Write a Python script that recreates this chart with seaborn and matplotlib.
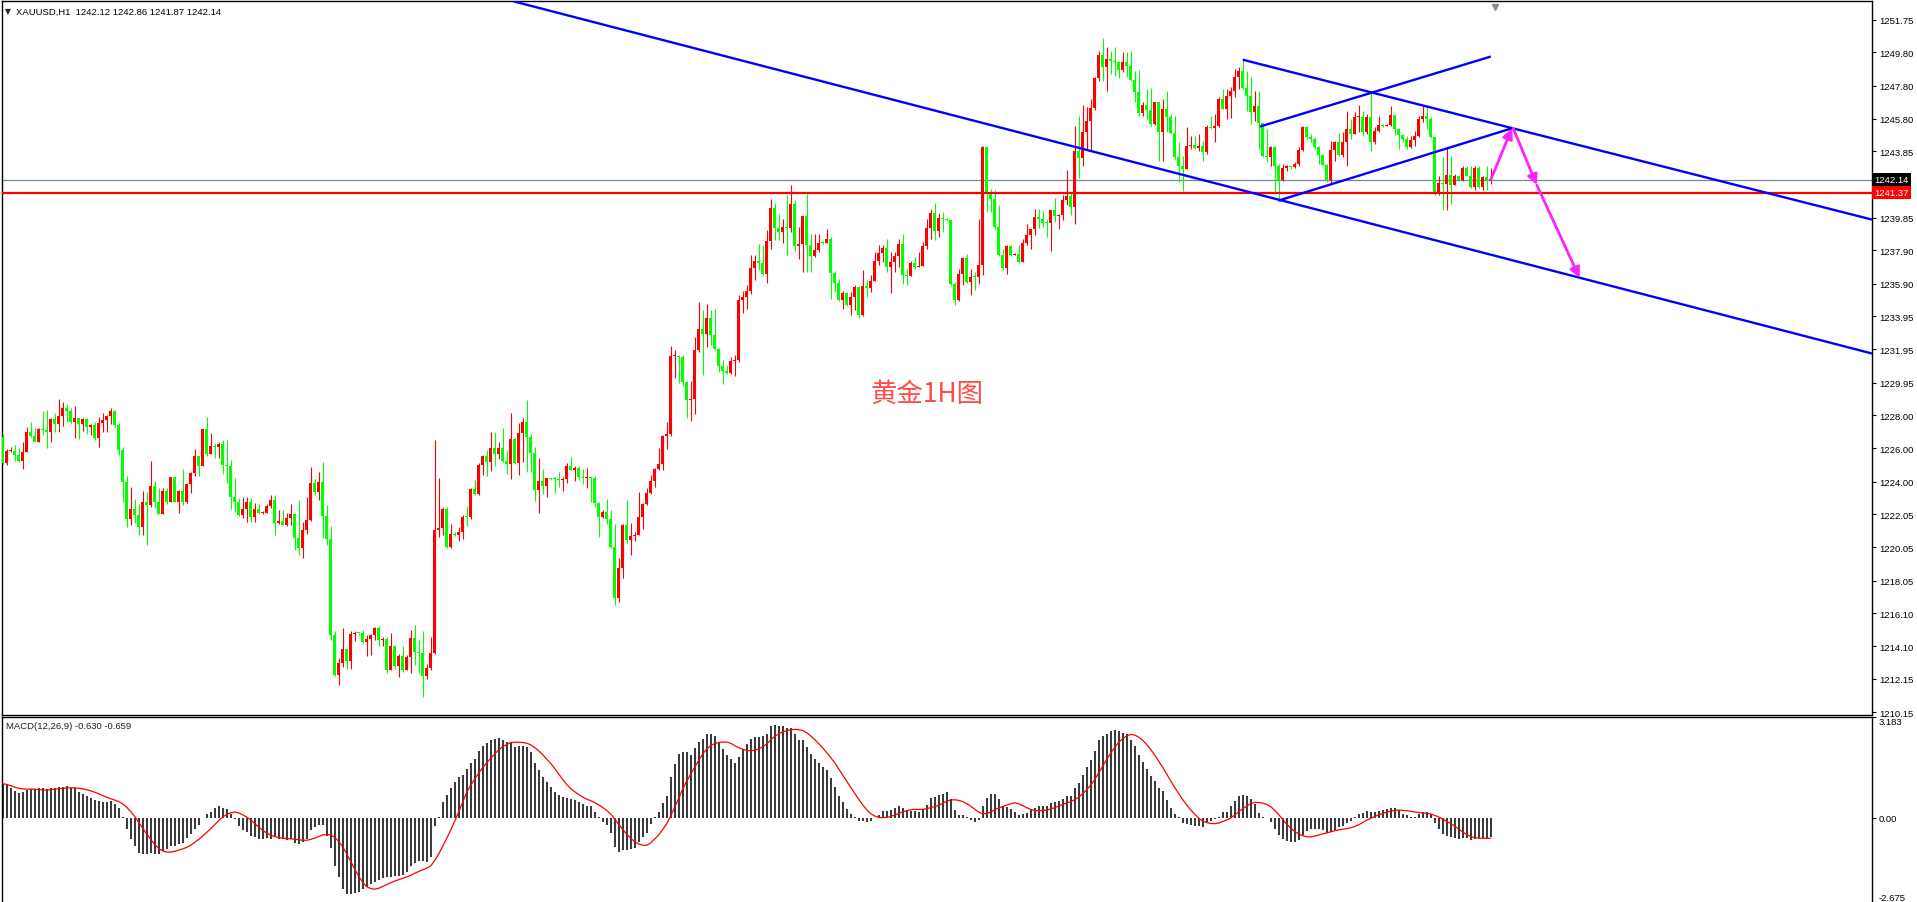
import numpy as np
import pandas as pd
import matplotlib
matplotlib.use('Agg')
import matplotlib.pyplot as plt
import matplotlib.transforms as mtransforms
import seaborn as sns

# XAUUSD H1, 373 bars
first_open = 1226.70
closes = [
    1225.10, 1225.84, 1225.84, 1225.60, 1225.24, 1225.80, 1227.00, 1226.76, 1226.36, 1227.16,
    1227.10, 1227.00, 1227.76, 1227.44, 1227.94, 1228.40, 1228.24, 1227.60, 1227.80, 1227.44,
    1227.74, 1227.30, 1227.40, 1226.64, 1227.50, 1227.70, 1227.94, 1228.24, 1227.40, 1225.90,
    1224.00, 1221.74, 1222.34, 1222.00, 1221.28, 1222.76, 1222.60, 1223.74, 1222.76, 1222.06,
    1223.44, 1222.76, 1224.26, 1222.78, 1223.44, 1222.76, 1223.88, 1224.50, 1225.52, 1224.94,
    1227.14, 1225.64, 1226.12, 1226.08, 1226.26, 1225.00, 1224.94, 1223.06, 1222.76, 1222.00,
    1222.34, 1222.80, 1221.88, 1222.34, 1222.10, 1222.12, 1222.54, 1222.88, 1221.50, 1221.66,
    1221.40, 1221.80, 1222.04, 1220.60, 1220.00, 1221.08, 1221.72, 1223.90, 1223.40, 1224.00,
    1221.94, 1220.54, 1214.80, 1212.40, 1213.10, 1213.94, 1213.24, 1214.84, 1214.90, 1214.88,
    1214.36, 1214.54, 1214.80, 1215.20, 1214.46, 1214.56, 1212.68, 1214.14, 1212.92, 1213.54,
    1212.66, 1213.46, 1214.60, 1213.76, 1213.70, 1212.34, 1212.80, 1213.70, 1221.08, 1221.20,
    1222.34, 1220.06, 1220.84, 1220.80, 1220.96, 1221.90, 1221.86, 1223.54, 1223.26, 1225.00,
    1225.56, 1225.20, 1226.00, 1225.64, 1226.00, 1225.24, 1225.04, 1226.54, 1225.10, 1226.90,
    1227.60, 1226.70, 1225.70, 1223.50, 1224.04, 1223.76, 1224.20, 1224.18, 1224.16, 1224.10,
    1224.16, 1224.94, 1224.70, 1224.84, 1224.26, 1224.20, 1224.24, 1224.20, 1222.70, 1221.86,
    1222.20, 1221.76, 1220.06, 1217.00, 1218.80, 1221.40, 1220.46, 1220.72, 1220.80, 1221.90,
    1222.66, 1223.30, 1224.04, 1224.76, 1225.04, 1226.74, 1226.84, 1231.54, 1231.58, 1231.48,
    1230.00, 1228.90, 1228.94, 1231.94, 1233.20, 1232.90, 1233.86, 1232.80, 1232.00, 1230.94,
    1230.64, 1230.50, 1231.26, 1231.30, 1234.90, 1235.10, 1235.44, 1236.86, 1237.24, 1237.14,
    1236.50, 1238.46, 1240.46, 1239.24, 1239.00, 1239.30, 1239.24, 1240.70, 1238.16, 1238.30,
    1239.94, 1238.20, 1237.54, 1237.94, 1238.36, 1238.34, 1238.60, 1236.56, 1235.96, 1234.90,
    1235.34, 1234.64, 1235.10, 1235.70, 1234.00, 1235.74, 1235.64, 1236.08, 1237.28, 1237.76,
    1238.04, 1236.88, 1237.20, 1237.56, 1238.30, 1236.40, 1236.38, 1237.14, 1236.90, 1236.96,
    1238.18, 1239.26, 1240.12, 1239.06, 1239.84, 1239.80, 1239.70, 1235.90, 1234.90, 1236.50,
    1237.44, 1236.00, 1236.30, 1236.28, 1237.00, 1244.10, 1241.40, 1241.00, 1239.30, 1237.60,
    1236.84, 1238.16, 1237.64, 1237.68, 1237.20, 1238.36, 1238.84, 1239.20, 1239.90, 1239.80,
    1239.56, 1239.54, 1240.30, 1239.96, 1240.00, 1240.90, 1241.16, 1240.50, 1243.86, 1243.44,
    1245.00, 1245.70, 1246.44, 1248.24, 1249.66, 1248.90, 1249.40, 1249.30, 1249.24, 1248.76,
    1249.24, 1249.00, 1248.14, 1247.40, 1246.16, 1246.64, 1246.36, 1245.50, 1246.84, 1245.04,
    1246.40, 1245.90, 1244.94, 1243.50, 1243.00, 1242.80, 1244.16, 1244.26, 1244.06, 1244.20,
    1243.80, 1245.34, 1245.26, 1245.40, 1247.00, 1246.40, 1247.20, 1247.50, 1248.34, 1248.70,
    1247.64, 1247.20, 1246.20, 1246.60, 1245.54, 1243.60, 1243.50, 1244.10, 1242.96, 1242.10,
    1242.84, 1243.00, 1242.90, 1243.10, 1243.96, 1245.30, 1244.70, 1244.60, 1244.10, 1243.64,
    1243.04, 1242.10, 1243.94, 1244.40, 1243.64, 1244.40, 1245.20, 1244.90, 1245.90, 1245.94,
    1245.00, 1245.94, 1244.40, 1245.10, 1245.44, 1245.40, 1245.42, 1246.04, 1245.20, 1244.84,
    1244.60, 1244.10, 1244.56, 1244.76, 1245.80, 1245.96, 1245.80, 1244.70, 1241.40, 1241.96,
    1241.90, 1242.46, 1241.80, 1242.40, 1242.10, 1242.84, 1242.40, 1241.70, 1242.84, 1241.70,
    1242.30, 1242.12, 1242.14,
]
highs = [
    1226.84, 1225.94, 1226.06, 1226.20, 1226.00, 1226.36, 1227.30, 1227.60, 1227.24, 1227.24,
    1228.24, 1228.28, 1227.84, 1228.14, 1228.94, 1228.80, 1228.64, 1228.40, 1228.54, 1227.84,
    1227.80, 1227.84, 1227.44, 1227.60, 1227.90, 1228.10, 1228.00, 1228.40, 1228.30, 1227.50,
    1226.10, 1224.36, 1223.66, 1222.94, 1222.64, 1223.46, 1223.40, 1225.24, 1224.04, 1223.60,
    1223.60, 1223.60, 1224.30, 1224.30, 1223.50, 1224.76, 1223.94, 1224.60, 1225.96, 1225.52,
    1227.14, 1227.90, 1226.90, 1226.30, 1226.36, 1226.50, 1226.48, 1225.28, 1224.20, 1223.00,
    1223.10, 1223.06, 1223.04, 1222.74, 1222.68, 1222.24, 1222.64, 1223.20, 1223.20, 1222.30,
    1222.28, 1222.10, 1222.64, 1222.04, 1222.88, 1221.60, 1223.06, 1224.86, 1224.14, 1224.56,
    1225.16, 1222.60, 1221.32, 1215.04, 1213.40, 1215.20, 1213.94, 1215.04, 1215.04, 1214.90,
    1215.06, 1214.80, 1214.84, 1215.24, 1215.34, 1214.68, 1214.66, 1214.90, 1214.20, 1213.66,
    1214.14, 1213.60, 1215.06, 1215.38, 1214.46, 1215.04, 1213.06, 1214.68, 1226.50, 1224.20,
    1222.46, 1222.46, 1221.44, 1220.96, 1221.30, 1222.00, 1222.56, 1223.60, 1224.10, 1225.14,
    1225.60, 1225.90, 1226.96, 1226.96, 1226.36, 1227.20, 1225.90, 1228.10, 1226.60, 1227.52,
    1227.84, 1228.88, 1226.88, 1226.06, 1225.40, 1224.76, 1224.24, 1224.24, 1224.28, 1224.56,
    1224.30, 1225.10, 1225.46, 1224.96, 1224.96, 1224.76, 1224.80, 1224.30, 1224.34, 1222.80,
    1222.30, 1222.94, 1222.30, 1221.46, 1219.40, 1221.46, 1222.88, 1221.50, 1220.96, 1223.40,
    1222.70, 1223.64, 1224.40, 1224.84, 1226.00, 1226.80, 1227.60, 1232.14, 1231.90, 1231.60,
    1231.64, 1230.04, 1230.04, 1232.70, 1234.80, 1234.30, 1234.70, 1234.34, 1234.40, 1232.06,
    1231.30, 1231.00, 1231.50, 1231.64, 1235.20, 1235.46, 1235.84, 1237.64, 1237.64, 1238.26,
    1238.24, 1239.14, 1241.00, 1240.76, 1240.10, 1239.76, 1241.24, 1241.84, 1240.90, 1239.30,
    1240.00, 1241.30, 1238.90, 1238.90, 1238.90, 1238.44, 1239.20, 1238.70, 1236.66, 1236.20,
    1235.44, 1235.40, 1235.40, 1235.80, 1235.74, 1236.74, 1236.10, 1236.40, 1237.80, 1238.20,
    1238.20, 1238.60, 1237.80, 1237.80, 1238.56, 1238.90, 1236.76, 1237.26, 1237.50, 1237.80,
    1238.40, 1239.76, 1240.36, 1240.72, 1240.16, 1240.20, 1239.84, 1239.74, 1236.00, 1236.76,
    1237.50, 1237.68, 1236.80, 1236.60, 1239.80, 1244.20, 1243.86, 1241.56, 1241.50, 1240.60,
    1238.00, 1238.20, 1238.20, 1237.72, 1238.20, 1238.60, 1239.50, 1239.20, 1240.40, 1240.40,
    1240.24, 1239.80, 1240.32, 1241.04, 1240.10, 1241.24, 1242.76, 1241.40, 1245.40, 1246.00,
    1246.64, 1246.50, 1247.00, 1248.30, 1249.86, 1250.66, 1250.10, 1249.90, 1250.10, 1249.26,
    1249.80, 1249.80, 1249.90, 1248.70, 1248.74, 1246.80, 1247.60, 1247.64, 1246.84, 1246.80,
    1247.00, 1247.50, 1246.10, 1246.00, 1244.40, 1243.60, 1245.30, 1244.80, 1244.80, 1244.90,
    1244.50, 1245.44, 1246.00, 1246.10, 1247.10, 1247.60, 1247.60, 1247.70, 1248.80, 1248.90,
    1249.44, 1248.70, 1248.30, 1247.50, 1247.50, 1245.50, 1245.20, 1244.20, 1244.20, 1243.10,
    1243.10, 1243.04, 1243.00, 1243.20, 1244.10, 1245.40, 1245.40, 1244.90, 1244.70, 1244.20,
    1243.70, 1243.10, 1244.50, 1244.50, 1244.96, 1245.00, 1246.30, 1245.80, 1246.20, 1246.64,
    1246.30, 1246.10, 1247.40, 1245.30, 1246.00, 1245.50, 1245.50, 1246.56, 1246.04, 1245.24,
    1244.90, 1244.80, 1244.80, 1245.10, 1246.00, 1246.60, 1246.50, 1245.90, 1244.70, 1242.40,
    1243.50, 1244.10, 1243.60, 1242.50, 1242.46, 1243.00, 1243.00, 1243.00, 1243.00, 1243.00,
    1242.40, 1243.00, 1242.86,
]
lows = [
    1225.04, 1225.00, 1225.76, 1225.24, 1225.16, 1224.76, 1225.76, 1226.70, 1226.36, 1226.36,
    1226.80, 1226.00, 1226.36, 1226.96, 1226.96, 1227.34, 1227.60, 1227.46, 1226.60, 1226.54,
    1227.06, 1226.84, 1226.80, 1226.50, 1226.10, 1226.96, 1226.96, 1227.44, 1227.26, 1225.60,
    1222.76, 1221.30, 1221.40, 1221.50, 1220.80, 1220.80, 1220.20, 1222.50, 1222.40, 1222.06,
    1222.06, 1222.68, 1222.96, 1222.76, 1222.10, 1222.60, 1222.70, 1223.30, 1224.34, 1224.34,
    1224.94, 1225.56, 1225.64, 1225.40, 1225.40, 1224.44, 1223.92, 1222.36, 1222.20, 1221.96,
    1221.80, 1221.56, 1221.56, 1221.56, 1222.04, 1222.06, 1222.20, 1222.44, 1220.80, 1221.46,
    1221.40, 1221.34, 1221.40, 1219.90, 1219.60, 1219.40, 1220.86, 1221.64, 1223.20, 1222.90,
    1220.60, 1220.20, 1214.50, 1212.34, 1211.80, 1212.86, 1212.74, 1212.74, 1214.40, 1214.76,
    1214.30, 1213.54, 1213.56, 1214.46, 1214.14, 1214.14, 1212.50, 1212.68, 1212.76, 1212.26,
    1212.58, 1212.76, 1212.50, 1213.00, 1212.50, 1211.08, 1212.16, 1212.66, 1213.64, 1220.66,
    1220.80, 1220.00, 1220.00, 1220.76, 1220.44, 1220.56, 1221.34, 1221.76, 1223.20, 1223.20,
    1224.40, 1224.34, 1224.64, 1224.94, 1225.36, 1225.20, 1224.46, 1224.16, 1225.06, 1224.40,
    1225.20, 1224.60, 1224.60, 1222.84, 1222.14, 1223.26, 1223.08, 1224.10, 1223.30, 1223.66,
    1223.44, 1223.90, 1224.70, 1224.04, 1224.10, 1223.88, 1223.60, 1222.80, 1222.46, 1220.66,
    1221.80, 1221.46, 1220.00, 1216.56, 1216.76, 1218.20, 1220.24, 1219.60, 1220.40, 1221.86,
    1221.16, 1222.60, 1223.24, 1223.66, 1224.70, 1224.68, 1225.96, 1226.74, 1230.20, 1229.90,
    1229.76, 1227.84, 1227.66, 1228.04, 1231.80, 1230.40, 1232.10, 1232.20, 1231.90, 1230.60,
    1229.84, 1230.46, 1230.46, 1230.34, 1231.16, 1234.16, 1234.40, 1235.26, 1236.14, 1236.70,
    1236.40, 1235.96, 1237.96, 1238.54, 1238.50, 1238.34, 1237.60, 1239.00, 1237.84, 1237.40,
    1236.60, 1236.60, 1236.60, 1237.50, 1237.80, 1238.30, 1238.50, 1235.00, 1235.40, 1234.84,
    1234.40, 1234.56, 1234.04, 1234.34, 1233.86, 1233.94, 1235.10, 1235.40, 1236.04, 1237.00,
    1237.20, 1236.60, 1235.36, 1236.60, 1236.90, 1235.90, 1235.84, 1236.34, 1236.80, 1236.92,
    1236.96, 1238.00, 1238.60, 1238.54, 1238.70, 1239.00, 1239.64, 1235.80, 1234.60, 1234.84,
    1235.80, 1235.96, 1235.20, 1235.50, 1235.86, 1236.40, 1240.20, 1240.20, 1239.20, 1237.56,
    1236.74, 1236.50, 1237.56, 1237.62, 1237.16, 1237.20, 1238.24, 1237.96, 1238.80, 1239.24,
    1239.30, 1238.70, 1237.86, 1239.60, 1239.20, 1239.70, 1240.60, 1240.00, 1239.50, 1242.24,
    1243.00, 1244.00, 1243.96, 1246.36, 1248.10, 1248.10, 1247.50, 1248.50, 1248.40, 1248.24,
    1248.60, 1248.30, 1248.10, 1246.80, 1246.00, 1246.00, 1245.80, 1245.40, 1245.44, 1243.30,
    1243.30, 1245.00, 1244.90, 1243.40, 1242.00, 1241.46, 1242.80, 1244.00, 1244.00, 1243.90,
    1243.30, 1243.70, 1245.20, 1244.40, 1245.30, 1246.40, 1245.80, 1245.84, 1247.10, 1247.60,
    1247.60, 1246.30, 1245.50, 1245.70, 1244.00, 1243.50, 1243.20, 1243.00, 1241.30, 1240.90,
    1242.04, 1242.70, 1242.80, 1242.84, 1242.96, 1243.90, 1244.60, 1244.40, 1244.00, 1243.10,
    1243.00, 1242.00, 1241.90, 1243.30, 1243.60, 1243.50, 1243.00, 1244.60, 1244.90, 1245.00,
    1244.80, 1244.90, 1243.90, 1244.30, 1245.04, 1245.30, 1245.36, 1245.36, 1244.84, 1244.00,
    1244.44, 1244.00, 1244.06, 1244.16, 1244.70, 1245.60, 1245.20, 1244.64, 1241.20, 1241.20,
    1240.30, 1240.30, 1240.70, 1242.06, 1242.04, 1242.06, 1242.36, 1241.64, 1241.50, 1241.64,
    1241.50, 1241.50, 1241.87,
]
# MACD(12,26,9) main line, drawn as histogram
macd = [
    1.07, 1.03, 0.92, 0.83, 0.78, 0.81, 0.86, 0.89, 0.89, 0.92,
    0.94, 0.89, 0.92, 0.94, 0.96, 0.96, 1.00, 0.94, 0.92, 0.81,
    0.73, 0.67, 0.62, 0.56, 0.51, 0.49, 0.49, 0.51, 0.42, 0.29,
    0.02, -0.36, -0.68, -0.90, -1.12, -1.17, -1.17, -1.12, -1.14, -1.17,
    -1.06, -1.01, -0.90, -0.90, -0.84, -0.81, -0.66, -0.52, -0.36, -0.25,
    -0.01, 0.10, 0.18, 0.29, 0.37, 0.31, 0.27, 0.10, -0.05, -0.27,
    -0.41, -0.47, -0.57, -0.63, -0.68, -0.68, -0.66, -0.68, -0.63, -0.68,
    -0.68, -0.70, -0.68, -0.81, -0.84, -0.77, -0.68, -0.39, -0.30, -0.23,
    -0.25, -0.57, -0.95, -1.55, -1.87, -2.25, -2.42, -2.42, -2.39, -2.36,
    -2.25, -2.20, -2.09, -2.04, -1.98, -1.93, -1.87, -1.88, -1.86, -1.85,
    -1.82, -1.73, -1.54, -1.43, -1.39, -1.39, -1.41, -1.25, -0.27, 0.02,
    0.49, 0.70, 0.95, 1.14, 1.27, 1.35, 1.54, 1.73, 1.86, 2.11,
    2.25, 2.35, 2.44, 2.49, 2.51, 2.44, 2.38, 2.38, 2.22, 2.25,
    2.27, 2.22, 2.06, 1.73, 1.49, 1.28, 1.14, 0.97, 0.81, 0.70,
    0.65, 0.62, 0.60, 0.56, 0.49, 0.43, 0.38, 0.35, 0.16, 0.01,
    -0.13, -0.24, -0.49, -0.92, -1.08, -1.03, -1.03, -1.01, -0.95, -0.78,
    -0.63, -0.49, -0.22, 0.02, 0.16, 0.45, 0.68, 1.27, 1.68, 2.00,
    2.08, 2.06, 1.97, 2.19, 2.40, 2.49, 2.65, 2.65, 2.58, 2.40,
    2.17, 1.97, 1.84, 1.73, 1.93, 2.17, 2.33, 2.49, 2.55, 2.55,
    2.58, 2.65, 2.89, 2.92, 2.89, 2.89, 2.82, 2.84, 2.65, 2.47,
    2.44, 2.24, 2.00, 1.86, 1.73, 1.60, 1.49, 1.25, 0.97, 0.68,
    0.49, 0.27, 0.11, 0.03, -0.11, -0.11, -0.14, -0.11, -0.02, 0.09,
    0.22, 0.22, 0.24, 0.30, 0.38, 0.29, 0.24, 0.22, 0.22, 0.19,
    0.27, 0.41, 0.62, 0.65, 0.70, 0.76, 0.81, 0.60, 0.24, 0.09,
    0.09, 0.01, -0.09, -0.13, -0.09, 0.36, 0.62, 0.74, 0.74, 0.60,
    0.38, 0.32, 0.27, 0.16, 0.08, 0.11, 0.13, 0.24, 0.30, 0.35,
    0.38, 0.38, 0.45, 0.49, 0.52, 0.60, 0.67, 0.67, 0.95, 1.10,
    1.35, 1.59, 1.82, 2.11, 2.44, 2.58, 2.65, 2.73, 2.76, 2.73,
    2.68, 2.63, 2.47, 2.27, 1.97, 1.75, 1.54, 1.30, 1.17, 0.95,
    0.84, 0.56, 0.30, 0.11, 0.01, -0.16, -0.22, -0.24, -0.27, -0.27,
    -0.29, -0.13, -0.11, -0.05, 0.02, 0.19, 0.19, 0.35, 0.52, 0.68,
    0.70, 0.68, 0.60, 0.43, 0.13, 0.02, -0.03, -0.14, -0.35, -0.54,
    -0.67, -0.74, -0.76, -0.76, -0.70, -0.54, -0.43, -0.35, -0.35, -0.35,
    -0.41, -0.49, -0.45, -0.38, -0.30, -0.27, -0.16, -0.11, 0.01, 0.11,
    0.14, 0.22, 0.16, 0.18, 0.22, 0.24, 0.27, 0.30, 0.30, 0.24,
    0.11, 0.09, 0.01, 0.01, 0.11, 0.16, 0.16, 0.11, -0.16, -0.35,
    -0.52, -0.60, -0.63, -0.65, -0.67, -0.65, -0.65, -0.70, -0.67, -0.65,
    -0.65, -0.65, -0.63,
]

price_ticks = [1251.75, 1249.80, 1247.80, 1245.80, 1243.85, 1239.85, 1237.90, 1235.90,
               1233.95, 1231.95, 1229.95, 1228.00, 1226.00, 1224.00, 1222.05, 1220.05,
               1218.05, 1216.10, 1214.10, 1212.15, 1210.15]
macd_ticks = [3.183, 0.0, -2.675]
macd_labels = ['3.183', '0.00', '-2.675']
bid = 1242.14
level = 1241.37

# drawn objects: bar index / price pairs
trend_x = [[127.7, 467.3], [310.0, 467.3], [314.3, 372.0], [318.9, 377.3]]
trend_y = [[1252.87, 1231.70], [1249.36, 1239.75], [1245.34, 1249.55], [1240.89, 1245.24]]
arrow_x = [[372.0, 377.3], [377.6, 383.5], [383.5, 394.2]]
arrow_y = [[1242.15, 1245.24], [1245.24, 1241.83], [1241.83, 1236.25]]

n = min(len(closes), len(highs), len(lows), len(macd))
df = pd.DataFrame({'close': closes[:n], 'high': highs[:n], 'low': lows[:n], 'macd': macd[:n]})
df['bar'] = np.arange(n)
df['open'] = [first_open] + list(df['close'][:-1])
df['high'] = df[['high', 'open', 'close']].max(axis=1)
df['low'] = df[['low', 'open', 'close']].min(axis=1)
df['signal'] = df['macd'].rolling(9, min_periods=1).mean()
up = df['close'] >= df['open']
colors = np.where(up, '#FF0000', '#00FF00')

sns.set_style('white')
plt.rcParams['font.family'] = ['Liberation Sans', 'DejaVu Sans']

W, H = 1917, 903
fig = plt.figure(figsize=(W / 100, H / 100), dpi=100)
ax = fig.add_axes([1.5 / W, 1 - 716 / H, 1870.5 / W, 714 / H])
am = fig.add_axes([1.5 / W, 0, 1870.5 / W, 185 / H])

xlim = (-0.3, 467.3)
fs = 6.8

# candles
ax.vlines(df['bar'], df['low'], df['high'], colors=colors, lw=0.8, zorder=3)
body_lo = df[['open', 'close']].min(axis=1)
body_h = np.maximum((df['close'] - df['open']).abs(), 0.06)
ax.bar(df['bar'], body_h, bottom=body_lo, width=0.75, color=colors, linewidth=0, zorder=4)

ax.axhline(bid, color='#778899', lw=0.9, zorder=2)
ax.axhline(level, color='#FF0000', lw=1.6, zorder=5)

for xs, ys in zip(trend_x, trend_y):
    ax.plot(xs, ys, color='#0000FF', lw=1.7, zorder=6, solid_capstyle='butt')
for xs, ys in zip(arrow_x, arrow_y):
    ax.annotate('', xy=(xs[1], ys[1]), xytext=(xs[0], ys[0]), zorder=7,
                arrowprops=dict(arrowstyle='-|>', color='#FF22FF', lw=2.0,
                                mutation_scale=15, shrinkA=0, shrinkB=0))

ax.text(231, 1229.3, '黄金1H图', color='#FF4A4A', fontsize=19, ha='center', va='center',
        family=['Noto Sans CJK SC', 'DejaVu Sans'], zorder=8)

ax.set_xlim(*xlim)
ax.set_ylim(1209.97, 1252.89)
ax.set_xticks([])
ax.yaxis.tick_right()
ax.set_yticks(price_ticks)
ax.set_yticklabels(['%.2f' % v for v in price_ticks])
ax.tick_params(axis='y', direction='out', length=3, width=0.8, pad=2, labelsize=fs,
               colors='black', right=True, left=False)
for s in ax.spines.values():
    s.set_color('black')
    s.set_linewidth(1.0)

tr = mtransforms.blended_transform_factory(ax.transAxes, ax.transData)
ax.text(1.0012, bid, '%.2f' % bid, transform=tr, color='white', fontsize=fs, va='center',
        ha='left', bbox=dict(boxstyle='square,pad=0.22', fc='black', ec='none'), zorder=9)
ax.text(1.0012, level, '%.2f' % level, transform=tr, color='white', fontsize=fs, va='center',
        ha='left', bbox=dict(boxstyle='square,pad=0.22', fc='#FF0000', ec='none'), zorder=9)

tr2 = mtransforms.blended_transform_factory(ax.transData, ax.transAxes)
ax.plot([373.1], [0.991], marker='v', ms=5, color='#8C8C8C', transform=tr2, clip_on=False)

fig.text(5 / W, 1 - 12 / H, '▼', fontsize=5.5, va='center', ha='left', family='DejaVu Sans')
fig.text(16 / W, 1 - 12 / H, 'XAUUSD,H1  1242.12 1242.86 1241.87 1242.14', fontsize=fs,
         va='center', ha='left', color='black')

# MACD panel
am.vlines(df['bar'], 0, df['macd'], colors='black', lw=1.1, zorder=2)
sns.lineplot(data=df, x='bar', y='signal', ax=am, color='#FF0000', lw=0.9, zorder=3)
am.set_xlim(*xlim)
am.set_ylim(-2.675, 3.183)
am.set_xticks([])
am.set_xlabel('')
am.set_ylabel('')
am.yaxis.tick_right()
am.set_yticks(macd_ticks)
am.set_yticklabels(macd_labels)
am.tick_params(axis='y', direction='out', length=3, width=0.8, pad=2, labelsize=fs,
               colors='black', right=True, left=False)
labs = am.get_yticklabels()
labs[0].set_va('top')
labs[2].set_va('bottom')
for s in am.spines.values():
    s.set_color('black')
    s.set_linewidth(1.0)
am.spines['bottom'].set_visible(False)
am.text(0.0025, 0.955, 'MACD(12,26,9) -0.630 -0.659', transform=am.transAxes, fontsize=fs,
        va='center', ha='left', color='#202020')

fig.savefig('out.png', dpi=100)
print(n)
